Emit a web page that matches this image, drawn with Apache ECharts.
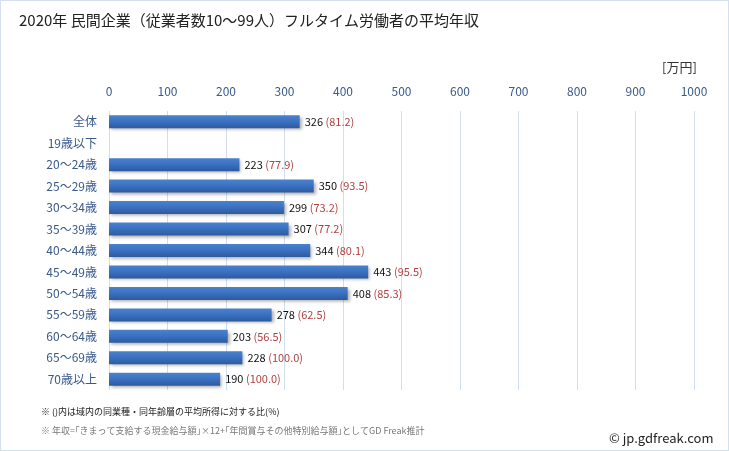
<!DOCTYPE html>
<html><head><meta charset="utf-8">
<script src="https://cdn.jsdelivr.net/npm/echarts@6/dist/echarts.min.js"></script>
<style>
html,body{margin:0;padding:0;background:#fff;}
#wrap{position:absolute;left:0;top:0;width:727px;height:449px;border:1px solid #d5e0ee;}
#c{width:729px;height:451px;position:absolute;left:0;top:0;}
</style></head>
<body>
<div id="wrap"></div>
<div id="c"></div>
<script>
const categories = ["全体","19歳以下","20～24歳","25～29歳","30～34歳","35～39歳","40～44歳","45～49歳","50～54歳","55～59歳","60～64歳","65～69歳","70歳以上"];
const values = [326, null, 223, 350, 299, 307, 344, 443, 408, 278, 203, 228, 190];
const ratios = ["81.2", null, "77.9", "93.5", "73.2", "77.2", "80.1", "95.5", "85.3", "62.5", "56.5", "100.0", "100.0"];
const ticks = [0,100,200,300,400,500,600,700,800,900,1000];

const chart = echarts.init(document.getElementById('c'), null, {renderer:'canvas'});
const font = '"Noto Sans CJK JP", "Noto Sans", sans-serif';
chart.setOption({
  animation:false,
  backgroundColor:'transparent',
  textStyle:{fontFamily:font},
  title:[
    {text:'2020年 民間企業（従業者数10～99人）フルタイム労働者の平均年収',left:14,top:8,textStyle:{fontSize:15,fontWeight:'normal',color:'#222',fontFamily:font}},
    {text:'[万円]',left:657,top:56,textStyle:{fontSize:13,fontWeight:'normal',color:'#333',fontFamily:font}},
    {text:'※ ()内は域内の同業種・同年齢層の平均所得に対する比(%)',left:36,top:402,textStyle:{fontSize:9,fontWeight:'normal',color:'#222',fontFamily:font}},
    {text:'※ 年収=｢きまって支給する現金給与額｣×12+｢年間賞与その他特別給与額｣としてGD Freak推計',left:36,top:421,textStyle:{fontSize:9,fontWeight:'normal',color:'#777',fontFamily:font}},
    {text:'© jp.gdfreak.com',left:604,top:427,textStyle:{fontSize:13,fontWeight:'normal',color:'#222',fontFamily:font}}
  ],
  grid:{left:109,right:35,top:111,bottom:61,containLabel:false},
  xAxis:{type:'value',position:'top',min:0,max:1000,interval:100,
    axisLine:{show:false},axisTick:{show:false},
    axisLabel:{color:'#3a5a8a',fontSize:12,margin:14,fontFamily:font,formatter:v=>ticks.includes(v)?String(v):''},
    splitLine:{lineStyle:{color:'#d0deef',width:1}}},
  yAxis:{type:'category',data:categories,inverse:true,
    axisLine:{show:false},axisTick:{show:false},
    axisLabel:{color:'#3a5a8a',fontSize:12,margin:12,fontFamily:font}},
  series:[{type:'bar',data:values,barWidth:13,
    itemStyle:{color:new echarts.graphic.LinearGradient(0,0,0,1,[{offset:0,color:'#4a82cf'},{offset:0.5,color:'#3a70c0'},{offset:1,color:'#2d5a9e'}]),
      shadowColor:'rgba(0,0,0,0.3)',shadowBlur:3,shadowOffsetX:2,shadowOffsetY:2},
    label:{show:true,position:'right',distance:5,fontSize:11,fontFamily:font,
      formatter:p=>p.value==null?'':'{v|'+p.value+'} {r|('+ratios[p.dataIndex]+')}',
      rich:{v:{color:'#111',fontSize:11,fontFamily:font},r:{color:'#b04040',fontSize:11,fontFamily:font}}}
  }]
});
</script>
</body></html>
